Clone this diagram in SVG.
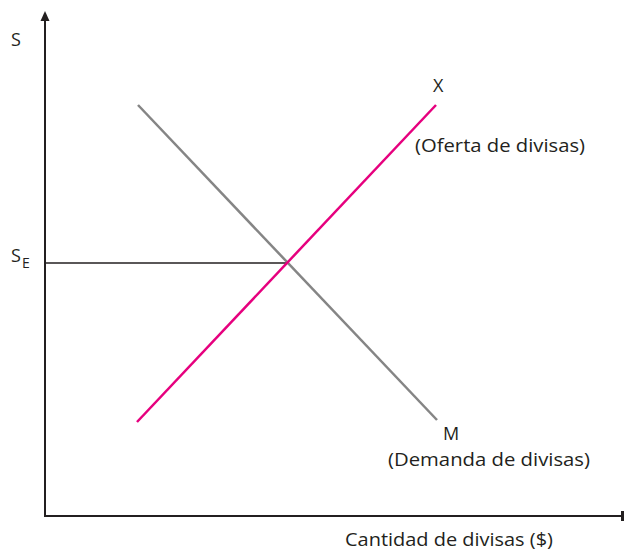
<svg xmlns="http://www.w3.org/2000/svg" width="624" height="553" viewBox="0 0 624 553">
<style>
text{font-family:"Open Sans","Liberation Sans",Arial,sans-serif;font-size:18px;fill:#231f20}
.ax{stroke:#231f20;stroke-width:2;fill:none}
</style>
<rect width="624" height="553" fill="#fff"/>
<g id="axes">
<line class="ax" x1="45" y1="18" x2="45" y2="517"/>
<line class="ax" x1="44" y1="516" x2="621" y2="516"/>
<polygon points="45,11 40.5,21 49.5,21" fill="#231f20"/>
<rect x="621" y="511" width="3" height="10" fill="#231f20"/>
</g>
<g id="connectors">
<line x1="45" y1="263" x2="287" y2="263" stroke="#231f20" stroke-width="1.5"/>
<line x1="138" y1="105" x2="437" y2="420" stroke="#858585" stroke-width="2.5"/>
<line x1="137" y1="422" x2="436" y2="105" stroke="#e6007e" stroke-width="2.5"/>
</g>
<g id="labels">
<text x="11" y="46">S</text>
<text x="11" y="262">S<tspan font-size="14" dy="6" dx="1">E</tspan></text>
<text x="433" y="92">X</text>
<text x="415" y="152" textLength="170" lengthAdjust="spacingAndGlyphs">(Oferta de divisas)</text>
<text x="443" y="440">M</text>
<text x="388" y="466" textLength="202" lengthAdjust="spacingAndGlyphs">(Demanda de divisas)</text>
<text x="345" y="546" textLength="208" lengthAdjust="spacingAndGlyphs">Cantidad de divisas ($)</text>
</g>
</svg>
